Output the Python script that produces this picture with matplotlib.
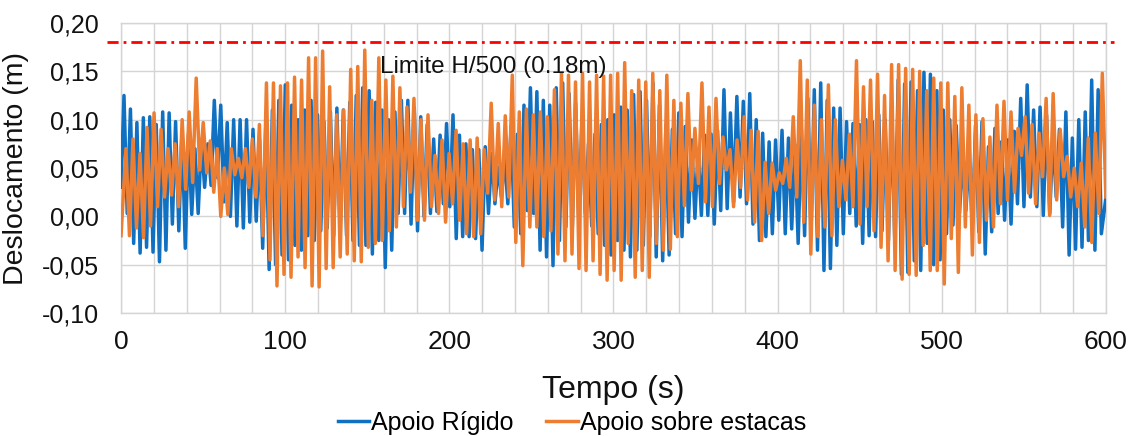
import numpy as np
import matplotlib
matplotlib.use('Agg')
import matplotlib.pyplot as plt
from matplotlib import font_manager
from matplotlib.ticker import MultipleLocator, FuncFormatter

# picos e vales (m), um por ciclo
rigido_picos = [
    0.125, 0.111, 0.097, 0.102, 0.103, 0.095, 0.108, 0.107, 0.098, 0.090,
    0.085, 0.070, 0.078, 0.075, 0.120, 0.115, 0.097, 0.100, 0.100, 0.100,
    0.090, 0.080, 0.100, 0.110, 0.120, 0.136, 0.115, 0.100, 0.110, 0.120,
    0.105, 0.098, 0.108, 0.112, 0.110, 0.118, 0.125, 0.133, 0.130, 0.118,
    0.110, 0.100, 0.108, 0.120, 0.120, 0.112, 0.103, 0.095, 0.080, 0.084,
    0.096, 0.105, 0.084, 0.075, 0.069, 0.069, 0.072, 0.065, 0.051, 0.060,
    0.093, 0.085, 0.115, 0.133, 0.129, 0.120, 0.115, 0.133, 0.138, 0.127,
    0.117, 0.103, 0.075, 0.085, 0.095, 0.100, 0.105, 0.113, 0.110, 0.126,
    0.129, 0.120, 0.138, 0.115, 0.094, 0.090, 0.107, 0.093, 0.079, 0.069,
    0.084, 0.085, 0.089, 0.131, 0.107, 0.124, 0.119, 0.127, 0.100, 0.086,
    0.077, 0.079, 0.089, 0.081, 0.074, 0.090, 0.122, 0.131, 0.138, 0.120,
    0.112, 0.112, 0.098, 0.096, 0.095, 0.100, 0.098, 0.105, 0.100, 0.113,
    0.141, 0.137, 0.139, 0.130, 0.149, 0.147, 0.130, 0.110, 0.100, 0.094,
    0.060, 0.060, 0.094, 0.098, 0.072, 0.091, 0.077, 0.079, 0.088, 0.122,
    0.136, 0.110, 0.113, 0.105, 0.082, 0.090, 0.108, 0.081, 0.100, 0.108,
    0.141, 0.131,
]
rigido_vales = [
    0.003, -0.028, -0.038, -0.032, -0.037, -0.047, -0.035, -0.008, -0.015, -0.033,
    0.002, 0.003, 0.030, 0.032, 0.040, 0.015, 0.000, -0.010, -0.012, -0.006,
    -0.005, -0.033, -0.055, -0.050, -0.040, -0.045, -0.030, -0.035, -0.020, -0.025,
    -0.015, -0.012, -0.020, -0.015, -0.020, -0.025, -0.030, -0.030, -0.039, -0.025,
    -0.053, -0.035, 0.003, 0.003, -0.008, -0.015, 0.000, 0.003, 0.005, 0.013,
    0.010, -0.023, -0.021, -0.021, -0.023, -0.035, 0.003, 0.013, 0.020, 0.013,
    -0.011, -0.018, 0.006, 0.003, -0.035, -0.042, -0.051, -0.025, -0.011, -0.011,
    -0.004, 0.003, -0.010, -0.018, -0.030, -0.040, -0.025, -0.035, -0.042, -0.035,
    -0.030, -0.021, -0.042, -0.046, -0.040, -0.018, -0.021, -0.006, -0.002, 0.001,
    0.001, -0.008, 0.006, 0.008, 0.015, 0.020, 0.013, -0.008, -0.025, -0.021,
    -0.018, -0.004, -0.018, -0.013, -0.028, -0.020, -0.016, -0.035, -0.056, -0.054,
    -0.030, -0.018, 0.003, -0.010, -0.028, -0.020, -0.021, -0.015, -0.025, -0.032,
    -0.060, -0.058, -0.046, -0.056, -0.028, -0.050, -0.045, -0.018, -0.009, 0.003,
    0.006, -0.009, -0.016, -0.039, -0.016, 0.003, -0.004, -0.008, 0.013, 0.010,
    0.020, 0.010, 0.001, 0.003, 0.020, -0.011, -0.040, -0.034, -0.032, -0.025,
    -0.035, -0.018,
]
estacas_picos = [
    0.070, 0.080, 0.065, 0.092, 0.107, 0.090, 0.070, 0.075, 0.100, 0.108,
    0.143, 0.097, 0.078, 0.070, 0.050, 0.070, 0.060, 0.070, 0.080, 0.095,
    0.138, 0.138, 0.135, 0.138, 0.144, 0.141, 0.164, 0.164, 0.171, 0.134,
    0.105, 0.110, 0.152, 0.155, 0.172, 0.120, 0.164, 0.141, 0.145, 0.133,
    0.113, 0.122, 0.100, 0.105, 0.063, 0.079, 0.065, 0.089, 0.075, 0.079,
    0.081, 0.069, 0.117, 0.096, 0.104, 0.146, 0.108, 0.111, 0.105, 0.108,
    0.103, 0.131, 0.148, 0.146, 0.139, 0.148, 0.139, 0.146, 0.145, 0.146,
    0.148, 0.159, 0.130, 0.141, 0.139, 0.148, 0.130, 0.146, 0.120, 0.117,
    0.127, 0.091, 0.138, 0.113, 0.122, 0.082, 0.069, 0.079, 0.103, 0.089,
    0.088, 0.056, 0.055, 0.045, 0.060, 0.103, 0.161, 0.141, 0.115, 0.100,
    0.136, 0.100, 0.058, 0.085, 0.161, 0.134, 0.141, 0.147, 0.125, 0.157,
    0.157, 0.153, 0.152, 0.150, 0.130, 0.143, 0.138, 0.138, 0.124, 0.133,
    0.115, 0.105, 0.101, 0.082, 0.115, 0.119, 0.108, 0.091, 0.103, 0.095,
    0.086, 0.122, 0.127, 0.090, 0.062, 0.050, 0.055, 0.081, 0.086, 0.148,
]
estacas_vales = [
    -0.020, -0.012, -0.022, -0.010, 0.010, 0.020, 0.022, 0.010, 0.028, 0.035,
    0.048, 0.045, 0.025, 0.000, 0.002, 0.043, 0.040, 0.030, 0.020, -0.020,
    -0.045, -0.072, -0.060, -0.063, -0.042, -0.053, -0.072, -0.073, -0.054, -0.053,
    -0.042, -0.039, -0.046, -0.047, -0.032, -0.028, -0.025, -0.015, -0.011, 0.010,
    0.025, -0.004, -0.004, 0.010, 0.003, -0.006, 0.013, -0.004, -0.018, -0.021,
    -0.018, 0.024, 0.017, 0.010, 0.020, -0.027, -0.051, -0.011, -0.011, -0.021,
    -0.015, -0.039, -0.046, -0.039, -0.054, -0.056, -0.046, -0.060, -0.066, -0.056,
    -0.066, -0.028, -0.063, -0.056, -0.063, -0.028, -0.035, -0.034, -0.021, 0.011,
    0.027, 0.034, 0.015, 0.010, 0.034, 0.048, 0.010, 0.030, 0.017, -0.006,
    -0.025, 0.003, 0.027, 0.034, 0.030, 0.020, -0.006, -0.039, -0.021, -0.011,
    -0.020, 0.010, 0.017, 0.010, -0.008, 0.010, -0.015, -0.032, -0.046, -0.056,
    -0.065, -0.060, -0.061, -0.030, -0.056, -0.056, -0.070, -0.023, -0.058, -0.011,
    -0.040, -0.027, -0.004, -0.011, 0.013, 0.017, 0.025, 0.063, 0.024, 0.013,
    0.041, 0.001, 0.017, 0.041, 0.020, 0.010, -0.011, -0.027, 0.003, 0.020,
]
rigido_inicio, rigido_fim = 0.030, 0.020
estacas_inicio = -0.020
limite = 0.18


def monta_serie(t0, periodo, picos, vales, inicio, fim=None):
    # intercala picos e vales no tempo
    n = len(picos)
    tp = t0 + periodo * np.arange(n)
    t = np.empty(2 * n)
    y = np.empty(2 * n)
    t[0::2] = tp
    t[1::2] = tp + periodo / 2
    y[0::2] = picos
    y[1::2] = vales
    t = np.concatenate([[0.0], t])
    y = np.concatenate([[inicio], y])
    if fim is not None:
        t = np.append(t, 600.0)
        y = np.append(y, fim)
    return t, y


nomes = {f.name for f in font_manager.fontManager.ttflist}
fonte = 'Liberation Sans' if 'Liberation Sans' in nomes else 'DejaVu Sans'
plt.rcParams['font.family'] = [fonte, 'DejaVu Sans']

t_r, y_r = monta_serie(1.8, 3.93, rigido_picos, rigido_vales, rigido_inicio, rigido_fim)
t_e, y_e = monta_serie(3.0, 4.279, estacas_picos, estacas_vales, estacas_inicio)

fig = plt.figure(figsize=(11.29, 4.36), dpi=100)
ax = fig.add_axes([0.1072, 0.2821, 0.8724, 0.6651])

azul = '#1070C2'
laranja = '#ED7D31'
ax.plot(t_r, y_r, color=azul, lw=2.5, label='Apoio Rígido', zorder=3,
        solid_joinstyle='round')
ax.plot(t_e, y_e, color=laranja, lw=2.5, label='Apoio sobre estacas', zorder=4,
        solid_joinstyle='round')

ax.plot([-0.014, 1.008], [limite, limite], color='#FF0000', lw=2.0,
        dashes=(4, 1.8, 1, 1.8), transform=ax.get_yaxis_transform(),
        clip_on=False, zorder=5)
ax.text(158, 0.155, 'Limite H/500 (0.18m)', fontsize=17.5, va='center',
        ha='left', color='#111111', zorder=6)

ax.set_xlim(0, 600)
ax.set_ylim(-0.10, 0.20)
ax.xaxis.set_major_locator(MultipleLocator(100))
ax.xaxis.set_minor_locator(MultipleLocator(20))
ax.yaxis.set_major_locator(MultipleLocator(0.05))
ax.yaxis.set_major_formatter(FuncFormatter(
    lambda v, p: ('%.2f' % (0 if abs(v) < 1e-9 else v)).replace('.', ',')))

ax.grid(which='both', color='#D4D4D4', lw=1.0, zorder=0)
ax.set_axisbelow(True)
for s in ax.spines.values():
    s.set_color('#D4D4D4')
    s.set_linewidth(1.0)
ax.tick_params(which='both', length=0)
ax.tick_params(axis='y', labelsize=18, pad=16, colors='#111111')
ax.tick_params(axis='x', labelsize=19, pad=12, colors='#111111')

ax.set_ylabel('Deslocamento (m)', fontsize=20.5, color='#111111')
ax.yaxis.set_label_coords(-0.093, 0.5)
ax.set_xlabel('Tempo (s)', fontsize=23, color='#111111')
ax.xaxis.set_label_coords(0.5, -0.215)

fig.legend(loc='center', bbox_to_anchor=(572 / 1129, 1 - 423 / 436), ncol=2,
           frameon=False, fontsize=18, handlelength=1.25, handletextpad=0.1,
           columnspacing=1.3, borderaxespad=0)

fig.savefig('out.png', dpi=100)
